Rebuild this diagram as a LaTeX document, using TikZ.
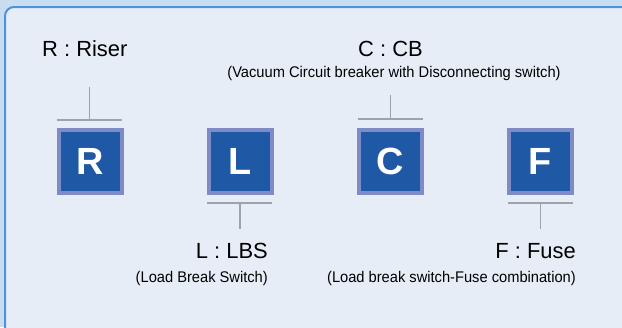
\documentclass[tikz,border=0pt]{standalone}
\usepackage{fontspec}
\setmainfont{Liberation Sans}
\newfontfamily\subfont[FakeStretch=0.95]{Liberation Sans}
\definecolor{outerbg}{HTML}{C9DDF1}
\definecolor{panelbg}{HTML}{E7EDF6}
\definecolor{panelborder}{HTML}{4E93DA}
\definecolor{boxedge}{HTML}{7D8BC6}
\definecolor{boxfill}{HTML}{1F59A5}
\definecolor{linegray}{HTML}{9BA3AB}
\tikzset{
  unitbox/.style={draw=boxedge, line width=4bp, fill=boxfill, minimum size=63bp, inner sep=0pt,
    text=white, font=\bfseries\fontsize{38}{38}\selectfont},
  titletext/.style={inner sep=0pt, text=black, font=\fontsize{22}{22}\selectfont},
  subtext/.style={inner sep=0pt, text=black, font=\subfont\fontsize{15.5}{15.5}\selectfont},
  bar/.style={draw=linegray, line width=2bp},
  stem/.style={draw=linegray, line width=1.6bp}
}
\begin{document}
\begin{tikzpicture}[x=1bp,y=-1bp]
\useasboundingbox (0,0) rectangle (622,327);
\fill[outerbg] (0,0) rectangle (622,327);
\draw[panelborder, line width=2bp, fill=panelbg, rounded corners=9bp] (5,7) rectangle (640,345);

% unit boxes
\node[unitbox] (R) at (90.5,161) {R};
\node[unitbox] (L) at (240.5,161) {L};
\node[unitbox] (C) at (390.5,161) {C};
\node[unitbox] (F) at (540.5,161) {F};

% labels
\node[titletext, anchor=base west] (Rt) at (42,56.7) {R : Riser};
\node[titletext, anchor=base] (Ct) at (390.5,56.7) {C : CB};
\node[subtext, anchor=base] (Cs) at (394,77) {(Vacuum Circuit breaker with Disconnecting switch)};
\node[titletext, anchor=base east] (Lt) at (268,258.3) {L : LBS};
\node[subtext, anchor=base east] (Ls) at (268,282) {(Load Break Switch)};
\node[titletext, anchor=base east] (Ft) at (576,258.3) {F : Fuse};
\node[subtext, anchor=base east] (Fs) at (576,282) {(Load break switch-Fuse combination)};

% bars
\coordinate (Rb1) at (57,120); \coordinate (Rb2) at (122,120);
\coordinate (Cb1) at (358,119); \coordinate (Cb2) at (423,119);
\coordinate (Lb1) at (207,203); \coordinate (Lb2) at (272,203);
\coordinate (Fb1) at (508,203); \coordinate (Fb2) at (573,203);
\draw[bar] (Rb1) -- (Rb2);
\draw[bar] (Cb1) -- (Cb2);
\draw[bar] (Lb1) -- (Lb2);
\draw[bar] (Fb1) -- (Fb2);

% stems
\coordinate (Rs) at (89.5,87);
\coordinate (Cst) at (390.5,95);
\coordinate (Lse) at (240,229);
\coordinate (Fse) at (540.5,229);
\draw[stem] (Rs) -- (Rs |- Rb1);
\draw[stem] (Cst) -- (Cst |- Cb1);
\draw[stem] (Lb1 -| Lse) -- (Lse);
\draw[stem] (Fb1 -| Fse) -- (Fse);
\end{tikzpicture}
\end{document}
